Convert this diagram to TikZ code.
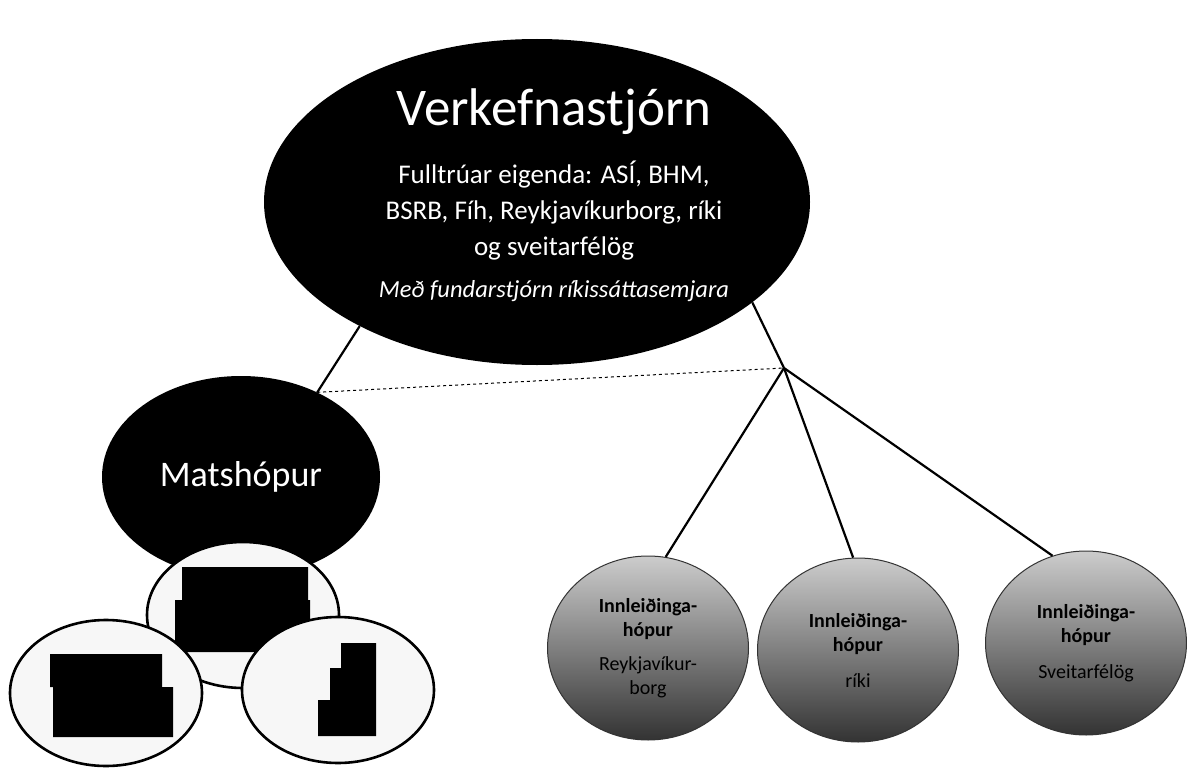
\documentclass[tikz,border=0pt]{standalone}
\usepackage{fontspec}
\setmainfont{Carlito}
\usetikzlibrary{shapes.geometric}

\tikzset{
  blackoval/.style={ellipse, fill=black, text=white, inner sep=0pt},
  whiteoval/.style={ellipse, draw=black, line width=2.6pt, fill=gray!6, inner sep=0pt,
    minimum width=192pt, minimum height=146pt},
  greyball/.style={ellipse, draw=black!80, line width=1pt, top color=gray!40,
    bottom color=black!80, inner sep=0pt, minimum width=201pt, minimum height=184pt,
    align=center, font=\fontsize{20}{24}\selectfont},
  bodytext/.style={text=white, anchor=base, font=\fontsize{27}{30}\selectfont},
  link/.style={line width=2.2pt},
  dotline/.style={line width=1pt, dash pattern=on 3pt off 3pt},
}

\begin{document}
\begin{tikzpicture}[x=1pt,y=-1pt]
\useasboundingbox (0,0) rectangle (1187,768);

% steering group
\node[blackoval, minimum width=546pt, minimum height=326pt] (verk) at (537,202) {};
\node[text=white, anchor=base, font=\fontsize{53}{56}\selectfont] (verktitle) at (554,125) {Verkefnastjórn};
\node[bodytext] (verkline1) at (554,183) {Fulltrúar eigenda: ASÍ, BHM,};
\node[bodytext] (verkline2) at (554,219) {BSRB, Fíh, Reykjavíkurborg, ríki};
\node[bodytext] (verkline3) at (554,255) {og sveitarfélög};
\node[bodytext, font=\fontsize{24.5}{28}\selectfont\itshape] (verkline4) at (554,297) {Með fundarstjórn ríkissáttasemjara};

% evaluation group
\node[blackoval, minimum width=278pt, minimum height=202pt, font=\fontsize{36}{40}\selectfont] (mats) at (241,477) {Matshópur};

\node[whiteoval] (matsmid) at (243,615) {};
\fill (182,567) -- (308,567) -- (308,600) -- (310,600) -- (310,652) -- (175,652) -- (175,600) -- (182,600) -- cycle;
\node[whiteoval] (matsleft) at (106,693) {};
\fill (50,654) -- (162,654) -- (162,687) -- (173,687) -- (173,737) -- (53,737) -- (53,687) -- (50,687) -- cycle;
\node[whiteoval] (matsright) at (338,690) {};
\fill (341,643) -- (376,643) -- (376,736) -- (318,736) -- (318,700) -- (330,700) -- (330,668) -- (341,668) -- cycle;

% implementation groups
\node[greyball] (grp1) at (648,648) {\textbf{Innleiðinga-}\\\textbf{hópur}\\[10pt]Reykjavíkur-\\borg};
\node[greyball] (grp2) at (858,650) {\textbf{Innleiðinga-}\\\textbf{hópur}\\[12pt]ríki};
\node[greyball] (grp3) at (1086,643) {\textbf{Innleiðinga-}\\\textbf{hópur}\\[12pt]Sveitarfélög};

\coordinate (split) at (784,368);

\draw[link] (verk.215) -- (mats.48);
\draw[link] (verk.-25) -- (split);
\draw[dotline] (mats.48) -- (split);
\draw[link] (split) -- (grp1.79);
\draw[link] (split) -- (grp2.93);
\draw[link] (split) -- (grp3.111);
\end{tikzpicture}
\end{document}
